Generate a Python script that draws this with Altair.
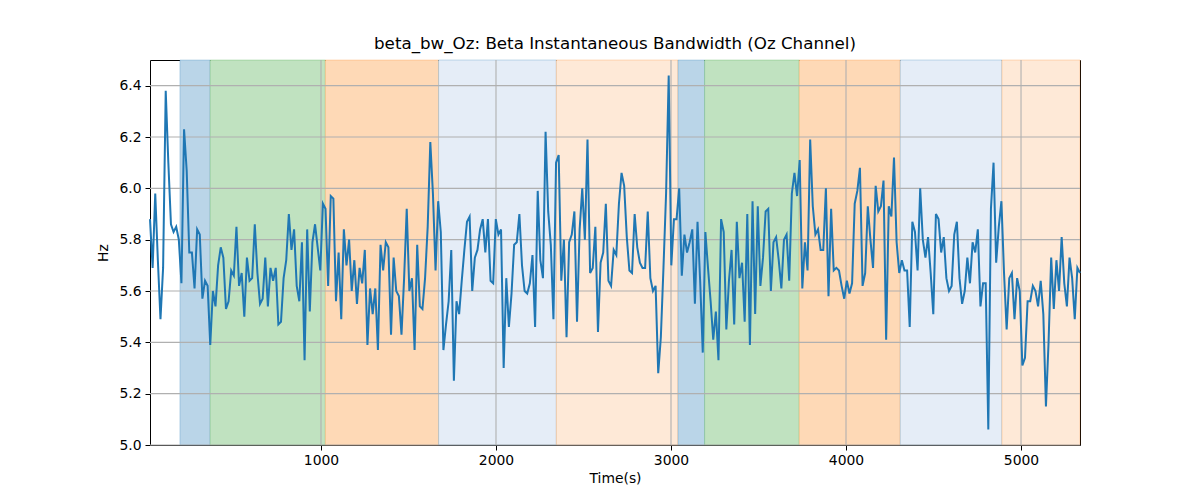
import altair as alt
import pandas as pd

# ---- data ----
start_s = 23.0
end_s = 5337.0

hz_values = [
    # ~23 - 560 s
    5.88, 5.69, 5.98, 5.72, 5.49, 5.69, 6.38, 6.10, 5.86, 5.83, 5.85, 5.80, 5.63, 6.23, 6.07, 5.75,
    5.75, 5.61, 5.84, 5.82, 5.57, 5.64, 5.62, 5.39, 5.60, 5.54, 5.70, 5.77, 5.73, 5.53, 5.56, 5.68,
    5.66, 5.85, 5.62, 5.67, 5.50, 5.73, 5.64, 5.65, 5.86, 5.67, 5.55, 5.57, 5.73, 5.54, 5.69,
    # zoom 2
    5.64, 5.69, 5.47, 5.48, 5.65, 5.72, 5.90, 5.76, 5.84, 5.62, 5.56, 5.79, 5.33, 5.84, 5.52, 5.79,
    5.86, 5.77, 5.68, 5.94, 5.92, 5.62, 5.97, 5.96, 5.56, 5.75, 5.49, 5.84, 5.70, 5.80, 5.60, 5.72,
    5.55, 5.69, 5.63, 5.76, 5.39, 5.61, 5.51, 5.61, 5.37, 5.78, 5.68, 5.79, 5.77,
    # zoom 3
    5.43, 5.73, 5.60, 5.58, 5.43, 5.65, 5.92, 5.60, 5.65, 5.37, 5.78, 5.54, 5.53, 5.65, 5.85, 6.18,
    5.98, 5.68, 5.95, 5.83, 5.37, 5.47, 5.56, 5.76, 5.25, 5.56, 5.51, 5.64, 5.76, 5.87, 5.89, 5.60,
    5.73, 5.76, 5.84, 5.88, 5.75, 5.88, 5.64, 5.63, 5.88, 5.82, 5.84, 5.30, 5.65, 5.46,
    # zoom 4
    5.59, 5.78, 5.79, 5.90, 5.70, 5.60, 5.59, 5.63, 5.74, 5.46, 5.99, 5.72, 5.65, 6.22, 5.91, 5.78,
    5.49, 6.10, 6.13, 5.64, 5.80, 5.42, 5.79, 5.82, 5.91, 5.48, 5.84, 6.00, 5.80, 6.19, 5.67, 5.69,
    5.85, 5.44, 5.71, 5.75, 5.94, 5.64, 5.62, 5.76, 5.74, 5.94, 6.06, 6.01, 5.81, 5.68,
    # zoom 5
    5.67, 5.90, 5.77, 5.71, 5.69, 5.69, 5.91, 5.65, 5.60, 5.62, 5.28, 5.42, 5.69, 5.98, 6.44, 5.70,
    5.88, 5.88, 6.00, 5.66, 5.82, 5.75, 5.79, 5.84, 5.55, 5.87, 5.64, 5.36, 5.83, 5.69, 5.56, 5.41,
    5.52, 5.33, 5.88, 5.83, 5.45, 5.64, 5.76, 5.47, 5.87, 5.65, 5.71, 5.48, 5.90,
    # zoom 6
    5.39, 5.95, 5.51, 5.93, 5.62, 5.73, 5.91, 5.92, 5.60, 5.79, 5.81, 5.72, 5.61, 5.80, 5.82, 5.64,
    5.98, 6.06, 5.97, 6.11, 5.61, 5.79, 5.68, 6.19, 5.93, 5.82, 5.84, 5.76, 5.76, 6.00, 5.58, 5.92,
    5.68, 5.69, 5.68, 5.62, 5.57, 5.64, 5.59, 5.63, 5.94, 5.99, 6.08, 5.62, 5.67, 5.93,
    # zoom 7
    5.80, 5.69, 6.01, 5.91, 5.93, 6.03, 5.41, 5.93, 5.89, 6.12, 5.79, 5.67, 5.72, 5.68, 5.68, 5.46,
    5.87, 5.83, 5.68, 6.00, 5.80, 5.73, 5.81, 5.67, 5.51, 5.90, 5.88, 5.75, 5.81, 5.65, 5.60, 5.62,
    5.82, 5.87, 5.65, 5.55, 5.60, 5.73, 5.63, 5.79,
    # zoom 8
    5.75, 5.84, 5.54, 5.63, 5.63, 5.06, 5.92, 6.10, 5.71, 5.85, 5.95, 5.67, 5.45, 5.65, 5.67, 5.49,
    5.65, 5.60, 5.31, 5.34, 5.56, 5.56, 5.62, 5.60, 5.54, 5.64, 5.51, 5.15, 5.40, 5.73, 5.53, 5.72,
    5.60, 5.81, 5.63, 5.54, 5.73, 5.65, 5.49, 5.69, 5.67,
]

span_starts = [194, 367, 1025, 1672, 2345, 3040, 3192, 3733, 4310, 4891]
span_ends = [367, 1025, 1672, 2345, 3040, 3192, 3733, 4310, 4891, 5337]
span_fill = ["#bad5e8", "#c0e2c0", "#fed9b6", "#e5edf7", "#fee9d7",
             "#bad5e8", "#c0e2c0", "#fed9b6", "#e5edf7", "#fee9d7"]
span_edge = ["#1f77b4", "#2ca02c", "#ff7f0e", "#1f77b4", "#ff7f0e",
             "#1f77b4", "#2ca02c", "#ff7f0e", "#1f77b4", "#ff7f0e"]

x_ticks = [1000, 2000, 3000, 4000, 5000]
y_ticks = [5.0, 5.2, 5.4, 5.6, 5.8, 6.0, 6.2, 6.4]

n = len(hz_values)
step = (end_s - start_s) / (n - 1)
line_df = pd.DataFrame({"t": [start_s + i * step for i in range(n)], "hz": hz_values})
span_df = pd.DataFrame({"x0": span_starts, "x1": span_ends, "fill": span_fill, "edge": span_edge})
xgrid_df = pd.DataFrame({"t": x_ticks})
ygrid_df = pd.DataFrame({"hz": y_ticks})

FONT = "DejaVu Sans"
xscale = alt.Scale(domain=[start_s, end_s], nice=False, zero=False)
yscale = alt.Scale(domain=[5.0, 6.5], nice=False, zero=False)

xaxis = alt.Axis(title="Time(s)", values=x_ticks, format="d", grid=False,
                 domain=False, tickColor="black", tickSize=5, tickWidth=1,
                 labelFont=FONT, labelFontSize=13.9, labelColor="black",
                 titleFont=FONT, titleFontSize=13.9, titleFontWeight="normal",
                 titleColor="black", labelPadding=3, titlePadding=5)
yaxis = alt.Axis(title="Hz", values=y_ticks, format=".1f", grid=False,
                 domain=False, tickColor="black", tickSize=5, tickWidth=1,
                 labelFont=FONT, labelFontSize=13.9, labelColor="black",
                 titleFont=FONT, titleFontSize=13.9, titleFontWeight="normal",
                 titleColor="black", labelPadding=4, titlePadding=8)

spans = alt.Chart(span_df).mark_rect(strokeWidth=1, strokeOpacity=0.25).encode(
    x=alt.X("x0:Q", scale=xscale, axis=xaxis),
    x2="x1:Q",
    y=alt.value(0),
    y2=alt.value(385),
    fill=alt.Fill("fill:N", scale=None),
    stroke=alt.Stroke("edge:N", scale=None),
)

xgrid = alt.Chart(xgrid_df).mark_rule(color="#b0b0b0", strokeWidth=1.1).encode(
    x=alt.X("t:Q", scale=xscale),
)
ygrid = alt.Chart(ygrid_df).mark_rule(color="#b0b0b0", strokeWidth=1.1).encode(
    y=alt.Y("hz:Q", scale=yscale, axis=yaxis),
)

line = alt.Chart(line_df).mark_line(color="#1f77b4", strokeWidth=2).encode(
    x=alt.X("t:Q", scale=xscale),
    y=alt.Y("hz:Q", scale=yscale),
)

chart = alt.layer(spans, xgrid, ygrid, line).properties(
    width=930,
    height=385,
    title=alt.TitleParams("beta_bw_Oz: Beta Instantaneous Bandwidth (Oz Channel)",
                          font=FONT, fontSize=16.7, fontWeight="normal",
                          color="black", offset=7),
    autosize=alt.AutoSizeParams(type="none"),
    padding={"left": 142, "top": 52, "right": 112, "bottom": 55},
).configure_view(stroke="black", strokeWidth=1)

chart.save("out.html", embed_options={"renderer": "svg", "actions": False})
